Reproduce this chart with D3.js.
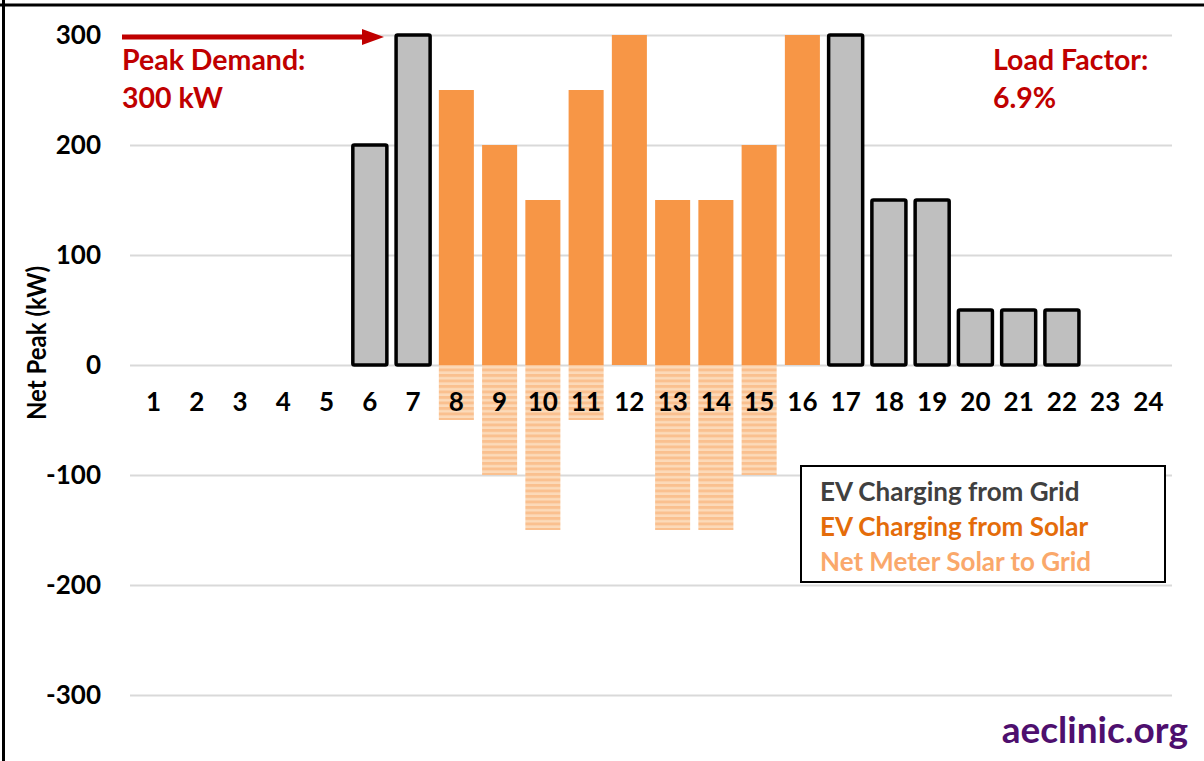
<!DOCTYPE html>
<html>
<head>
<meta charset="utf-8">
<script src="https://cdn.jsdelivr.net/npm/d3@7"></script>
<style>
  body { margin: 0; background: #fff; }
  svg { display: block; font-family: Lato, "Open Sans", sans-serif; }
</style>
</head>
<body>
<svg id="chart" width="1204" height="761"></svg>
<script>
const hours = d3.range(1, 25).map(String);
const gridHours = ["6", "7", "17", "18", "19", "20", "21", "22"];
const gridValues = [200, 300, 300, 150, 150, 50, 50, 50];
const solarHours = ["8", "9", "10", "11", "12", "13", "14", "15", "16"];
const solarValues = [250, 200, 150, 250, 300, 150, 150, 200, 300];
const netMeterHours = ["8", "9", "10", "11", "13", "14", "15"];
const netMeterValues = [-50, -100, -150, -50, -150, -150, -100];
const yTicks = [-300, -200, -100, 0, 100, 200, 300];
const legendLabels = ["EV Charging from Grid", "EV Charging from Solar", "Net Meter Solar to Grid"];
const legendColors = ["#404040", "#E46C0A", "#FAA86B"];

const svg = d3.select("#chart");
const W = 1204, H = 761;
const plotL = 130, plotR = 1172;

const x = d3.scaleBand().domain(hours).range([plotL, plotR]).paddingInner(0.19).paddingOuter(0.14);
const y = d3.scaleLinear().domain([-300, 300]).range([695, 35]);

// outer frame (top & left edges visible)
svg.append("line").attr("x1", 0).attr("x2", W).attr("y1", 5).attr("y2", 5).attr("stroke", "#000").attr("stroke-width", 3);
svg.append("line").attr("x1", 3.5).attr("x2", 3.5).attr("y1", 0).attr("y2", H).attr("stroke", "#000").attr("stroke-width", 3);

// pattern
const defs = svg.append("defs");
const pat = defs.append("pattern").attr("id", "hatch").attr("patternUnits", "userSpaceOnUse")
  .attr("width", 10).attr("height", 5.5);
pat.append("rect").attr("width", 10).attr("height", 5.5).attr("fill", "#FCDAB9");
pat.append("rect").attr("width", 10).attr("height", 2.9).attr("fill", "#FAC08F");

// gridlines
const gridAxis = d3.axisLeft(y).tickValues(yTicks).tickSize(-(plotR - plotL)).tickFormat("");
const gg = svg.append("g").attr("transform", `translate(${plotL},0)`).call(gridAxis);
gg.select(".domain").remove();
gg.selectAll("line").attr("stroke", "#D9D9D9").attr("stroke-width", 2);

// y tick labels
const yAxis = d3.axisLeft(y).tickValues(yTicks).tickSize(0).tickPadding(0).tickFormat(d => d < 0 ? "-" + Math.abs(d) : d);
const ya = svg.append("g").attr("transform", "translate(101,0)").call(yAxis);
ya.select(".domain").remove();
ya.selectAll("text").attr("font-family", "Lato, sans-serif").attr("font-weight", "bold")
  .attr("font-size", 26).attr("fill", "#000");

// net meter hatched bars
svg.append("g").selectAll("rect").data(netMeterHours).join("rect")
  .attr("x", d => x(d)).attr("width", x.bandwidth())
  .attr("y", y(0)).attr("height", (d, i) => y(netMeterValues[i]) - y(0))
  .attr("fill", "url(#hatch)");

// solar bars
svg.append("g").selectAll("rect").data(solarHours).join("rect")
  .attr("x", d => x(d)).attr("width", x.bandwidth())
  .attr("y", (d, i) => y(solarValues[i])).attr("height", (d, i) => y(0) - y(solarValues[i]))
  .attr("fill", "#F79646");

// grid bars
svg.append("g").selectAll("rect").data(gridHours).join("rect")
  .attr("x", d => x(d) + 0.5).attr("width", x.bandwidth() - 1)
  .attr("y", (d, i) => y(gridValues[i])).attr("height", (d, i) => y(0) - y(gridValues[i]))
  .attr("fill", "#BFBFBF").attr("stroke", "#000").attr("stroke-width", 3.5)
  .attr("stroke-linejoin", "round").attr("rx", 1.5);

// x axis labels
const xAxis = d3.axisBottom(x).tickSize(0).tickPadding(28);
const xa = svg.append("g").attr("transform", `translate(0,${y(0)})`).call(xAxis);
xa.select(".domain").remove();
xa.selectAll("text").attr("font-family", "Lato, sans-serif").attr("font-weight", "bold")
  .attr("font-size", 26).attr("fill", "#000");

// y axis title
svg.append("text").attr("transform", "translate(46,343) rotate(-90)")
  .attr("text-anchor", "middle").attr("font-weight", "bold").attr("font-size", 27)
  .attr("textLength", 154).attr("lengthAdjust", "spacingAndGlyphs")
  .attr("fill", "#000").text("Net Peak (kW)");

// peak demand arrow
const red = "#C00000";
svg.append("line").attr("x1", 122).attr("x2", 366).attr("y1", y(300) + 2).attr("y2", y(300) + 2)
  .attr("stroke", red).attr("stroke-width", 5);
svg.append("path").attr("d", `M362,${y(300) - 6} L384,${y(300) + 2} L362,${y(300) + 10} Z`).attr("fill", red);
svg.append("text").attr("x", 122).attr("y", 70).attr("fill", red).attr("font-weight", "bold")
  .attr("font-size", 28.5).text("Peak Demand:");
svg.append("text").attr("x", 122).attr("y", 108).attr("fill", red).attr("font-weight", "bold")
  .attr("font-size", 28.5).text("300 kW");
svg.append("text").attr("x", 993).attr("y", 70).attr("fill", red).attr("font-weight", "bold")
  .attr("font-size", 28.5).text("Load Factor:");
svg.append("text").attr("x", 993).attr("y", 108).attr("fill", red).attr("font-weight", "bold")
  .attr("font-size", 28.5).text("6.9%");

// legend
svg.append("rect").attr("x", 801).attr("y", 466).attr("width", 364).attr("height", 116)
  .attr("fill", "#fff").attr("stroke", "#000").attr("stroke-width", 2);
svg.append("g").selectAll("text").data(legendLabels).join("text")
  .attr("x", 820).attr("y", (d, i) => 501 + i * 35)
  .attr("fill", (d, i) => legendColors[i]).attr("font-weight", "bold").attr("font-size", 26)
  .text(d => d);

// watermark
svg.append("text").attr("x", 1188).attr("y", 743).attr("text-anchor", "end")
  .attr("fill", "#4E0F6E").attr("font-weight", "bold").attr("font-size", 37).text("aeclinic.org");
</script>
</body>
</html>
